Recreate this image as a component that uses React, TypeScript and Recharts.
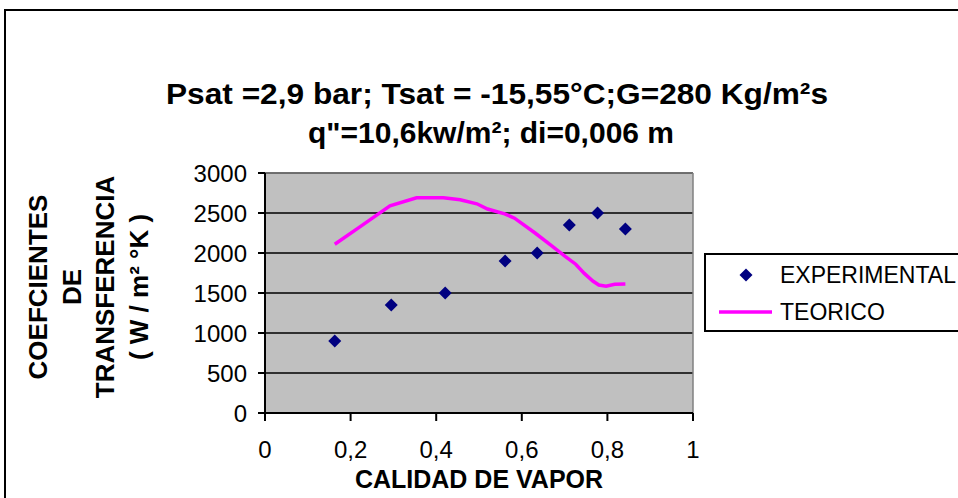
import { ComposedChart, Scatter, Line, XAxis, YAxis, CartesianGrid, ReferenceLine, Legend } from 'recharts';

// experimental points: vapour quality vs. heat transfer coefficient
const calidad = [0.163, 0.295, 0.421, 0.561, 0.636, 0.711, 0.777, 0.842];
const experimental = [900, 1350, 1500, 1900, 2000, 2350, 2500, 2300];

// theoretical curve
const calidadTeorica = [0.163, 0.22, 0.292, 0.354, 0.417, 0.456, 0.495, 0.52, 0.56, 0.583, 0.631, 0.67, 0.702, 0.726, 0.746, 0.766, 0.78, 0.797, 0.817, 0.842];
const teorico = [2110, 2320, 2590, 2690, 2690, 2665, 2615, 2550, 2490, 2435, 2250, 2090, 1955, 1860, 1745, 1650, 1600, 1585, 1610, 1612];

const xTicks = [0, 0.2, 0.4, 0.6, 0.8, 1];
const yTicks = [0, 500, 1000, 1500, 2000, 2500, 3000];

const titulo = ['Psat =2,9 bar; Tsat = -15,55°C;G=280 Kg/m²s', 'q"=10,6kw/m²; di=0,006 m'];
const tituloY = ['COEFCIENTES', 'DE', 'TRANSFERENCIA', '( W / m² °K )'];
const tituloX = 'CALIDAD DE VAPOR';

const expData = calidad.map((x, i) => ({ x, y: experimental[i] }));
const teoData = calidadTeorica.map((x, i) => ({ x, y: teorico[i] }));

const FONT = '"Liberation Sans", Arial, sans-serif';

const Diamond = (props: any) => {
  const { cx, cy } = props;
  const r = 6.5;
  return <polygon points={`${cx},${cy - r} ${cx + r},${cy} ${cx},${cy + r} ${cx - r},${cy}`} fill="#000080" />;
};

const LegendBox = (props: any) => {
  const items = props.payload || [];
  return (
    <div style={{ width: 270, height: 79, border: '2px solid #000', background: '#fff', fontFamily: FONT, fontSize: 23, color: '#000', boxSizing: 'border-box', paddingTop: 1.5 }}>
      {items.map((it: any, i: number) => (
        <div key={i} style={{ display: 'flex', alignItems: 'center', height: 37 }}>
          <svg width={74} height={20} style={{ display: 'block' }}>
            {it.type === 'diamond' ? (
              <polygon points="40,3.5 46.5,10 40,16.5 33.5,10" fill="#000080" />
            ) : (
              <line x1={13} y1={10} x2={66} y2={10} stroke="#FF00FF" strokeWidth={3.5} />
            )}
          </svg>
          <span>{it.value}</span>
        </div>
      ))}
    </div>
  );
};

export default function App() {
  return (
    <div style={{ position: 'fixed', left: 0, top: 0, width: 958, height: 498, overflow: 'hidden', background: '#fff' }}>
      <ComposedChart
        width={958}
        height={498}
        margin={{ top: 173, right: 265, bottom: 25, left: 185 }}
        style={{ fontFamily: FONT }}
      >
        <CartesianGrid horizontal vertical={false} stroke="#000" strokeWidth={1.5} fill="#C0C0C0" fillOpacity={1} />
        <XAxis
          type="number"
          dataKey="x"
          domain={[0, 1]}
          ticks={xTicks}
          tickFormatter={(v: number) => String(v).replace('.', ',')}
          height={60}
          tickSize={8}
          tickMargin={20}
          stroke="#000"
          strokeWidth={2}
          tick={{ fill: '#000', fontSize: 24, fontFamily: FONT }}
        />
        <YAxis
          type="number"
          dataKey="y"
          domain={[0, 3000]}
          ticks={yTicks}
          width={80}
          tickSize={7}
          tickMargin={11}
          stroke="#000"
          strokeWidth={2}
          tick={{ fill: '#000', fontSize: 24, fontFamily: FONT }}
        />
        <ReferenceLine y={3000} stroke="#808080" strokeWidth={1.5} />
        <ReferenceLine x={1} stroke="#808080" strokeWidth={1.5} />
        <Scatter name="EXPERIMENTAL" data={expData} legendType="diamond" fill="#000080" shape={Diamond} isAnimationActive={false} />
        <Line
          name="TEORICO"
          data={teoData}
          dataKey="y"
          type="linear"
          stroke="#FF00FF"
          strokeWidth={3.5}
          dot={false}
          legendType="line"
          isAnimationActive={false}
        />
        <Legend
          layout="vertical"
          align="center"
          verticalAlign="middle"
          wrapperStyle={{ position: 'absolute', left: 704, top: 253, width: 270 }}
          content={LegendBox}
        />
      </ComposedChart>
      <svg width={958} height={498} style={{ position: 'absolute', left: 0, top: 0, pointerEvents: 'none' }} fontFamily={FONT}>
        <rect x={5} y={10} width={1000} height={600} fill="none" stroke="#000" strokeWidth={2} />
        <text x={497} y={104} textAnchor="middle" fontSize={30} fontWeight="bold" textLength={662} lengthAdjust="spacingAndGlyphs">{titulo[0]}</text>
        <text x={491} y={143} textAnchor="middle" fontSize={30} fontWeight="bold">{titulo[1]}</text>
        {tituloY.map((t, i) => (
          <text key={t} transform={`translate(${47 + i * 33.5},287) rotate(-90)`} textAnchor="middle" fontSize={26} fontWeight="bold">{t}</text>
        ))}
        <text x={479} y={488} textAnchor="middle" fontSize={25} fontWeight="bold">{tituloX}</text>
      </svg>
    </div>
  );
}
